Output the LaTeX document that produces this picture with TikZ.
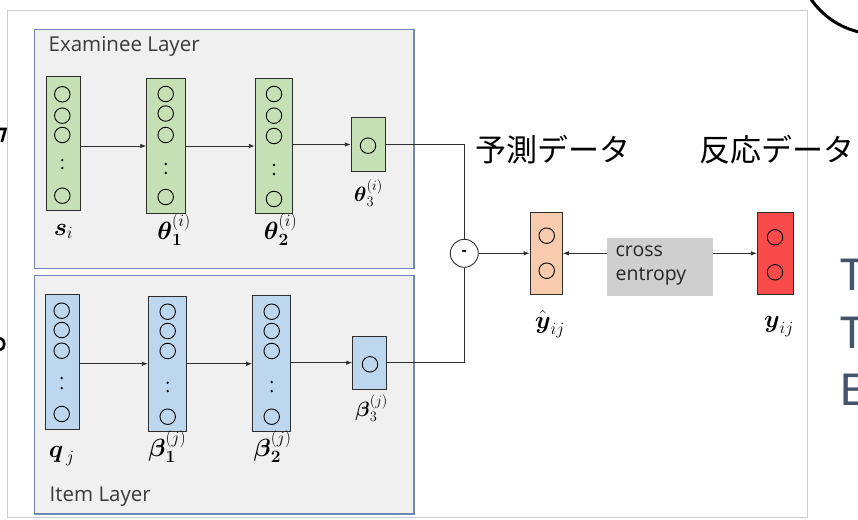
\documentclass[tikz,border=0pt]{standalone}
\usepackage{amsmath}
\usepackage{fontspec}
\newfontfamily\lblfont{Open Sans}
\newfontfamily\jpfont{Noto Sans CJK JP}
\newfontfamily\calfont{Carlito}
\usetikzlibrary{arrows.meta,calc}
\definecolor{framegray}{HTML}{CCCCCC}
\definecolor{layerfill}{HTML}{F0F0F0}
\definecolor{layerborder}{HTML}{6D86B4}
\definecolor{greenfill}{HTML}{C5E0B4}
\definecolor{bluefill}{HTML}{BDD7EE}
\definecolor{peachfill}{HTML}{F8CBAD}
\definecolor{redfill}{HTML}{F94B4B}
\definecolor{cefill}{HTML}{D0CFD0}
\definecolor{linecol}{HTML}{2E2E2E}
\definecolor{slatetext}{HTML}{44546A}
\definecolor{labeltext}{HTML}{3A3A3A}
\begin{document}
\begin{tikzpicture}[x=1pt,y=-1pt,
  frame/.style={draw=framegray, line width=1pt, fill=white, inner sep=0},
  layerbox/.style={draw=layerborder, line width=1.1pt, fill=layerfill, inner sep=0},
  col/.style={draw=linecol, line width=0.9pt, inner sep=0},
  neuron/.style={circle, draw=black, line width=0.9pt, minimum size=15.5pt, inner sep=0},
  dot/.style={circle, fill=black, minimum size=2.6pt, inner sep=0},
  arr/.style={draw=linecol, line width=0.8pt, -{Latex[length=6pt,width=4.5pt]}},
  conn/.style={draw=linecol, line width=0.8pt},
  mlabel/.style={anchor=base, inner sep=0, font=\fontsize{24}{26}\selectfont},
  smlabel/.style={anchor=base, inner sep=0, font=\fontsize{21}{23}\selectfont},
  layerlabel/.style={anchor=base west, inner sep=0, text=labeltext, font=\lblfont\fontsize{20.5}{23}\selectfont}
]
\useasboundingbox (0,0) rectangle (858,519);
\clip (0,0) rectangle (858,519);
\fill[white] (0,0) rectangle (858,519);

% outer frame
\node[frame, minimum width=800pt, minimum height=506pt] (frame) at (407,264) {};

% layer boxes
\node[layerbox, minimum width=379.3pt, minimum height=239pt] (exam) at (224.35,148.8) {};
\node[layerbox, minimum width=379.3pt, minimum height=238.3pt] (item) at (224.35,394.85) {};
\node[layerlabel] (examlbl) at (48.5,52) {Examinee Layer};
\node[layerlabel] (itemlbl) at (49.5,501.7) {Item Layer};

% tall columns
\node[col, fill=greenfill, minimum width=33.6pt, minimum height=134.7pt] (si)  at (63.5,143.3) {};
\node[col, fill=greenfill, minimum width=38.6pt, minimum height=134.6pt] (th1) at (166,146) {};
\node[col, fill=greenfill, minimum width=37pt,   minimum height=134.6pt] (th2) at (273.8,146) {};
\node[col, fill=greenfill, minimum width=34pt,   minimum height=54.4pt]  (th3) at (368.3,144.5) {};
\node[col, fill=bluefill,  minimum width=33.6pt, minimum height=135pt]   (qj)  at (62.5,361.5) {};
\node[col, fill=bluefill,  minimum width=38pt,   minimum height=134.3pt] (b1)  at (167.3,363.8) {};
\node[col, fill=bluefill,  minimum width=37.3pt, minimum height=136pt]   (b2)  at (271.3,363) {};
\node[col, fill=bluefill,  minimum width=34pt,   minimum height=53.3pt]  (b3)  at (369.7,362.7) {};

% neurons in tall columns
\foreach \n/\x/\a/\b/\c/\d/\e/\f in {
  si/62.3/94.3/115.7/135/195.7/160/168,
  th1/165.7/94/113.5/135/197/164/173,
  th2/274/94/115.7/136/199/165/174,
  qj/61.7/310.7/330/350.7/414/378/388,
  b1/167.7/311.7/331/351/416.7/382.7/391,
  b2/271.7/311.7/331/351/416.7/382/391} {
  \node[neuron] (\n-n1) at (\x,\a) {};
  \node[neuron] (\n-n2) at (\x,\b) {};
  \node[neuron] (\n-n3) at (\x,\c) {};
  \node[neuron] (\n-n4) at (\x,\d) {};
  \node[dot] (\n-d1) at (\x,\e) {};
  \node[dot] (\n-d2) at (\x,\f) {};
}
\node[neuron] (th3-n1) at (368,145.7) {};
\node[neuron] (b3-n1) at (370,364.3) {};

% output columns
\node[col, fill=peachfill, minimum width=32.3pt, minimum height=81.3pt] (yhat) at (546.2,253.3) {};
\node[col, fill=redfill,   minimum width=36pt,   minimum height=81.3pt] (yobs) at (775.3,253.3) {};
\node[neuron] (yhat-n1) at (546.7,235.7) {};
\node[neuron] (yhat-n2) at (546.7,270.7) {};
\node[neuron] (yobs-n1) at (775,237.3) {};
\node[neuron] (yobs-n2) at (775,272.3) {};

% cross entropy box
\node[fill=cefill, minimum width=106pt, minimum height=58.3pt, inner sep=0] (ce) at (659.7,266.8) {};
\node[anchor=west, align=left, inner sep=0, text=black!85, font=\lblfont\fontsize{19.5}{24}\selectfont] (cetext) at (615.5,265.5) {cross\\entropy};

% minus node
\node[circle, draw=linecol, fill=white, line width=0.9pt, minimum size=28pt, inner sep=0] (minus) at (464.3,253.3) {\lblfont\bfseries\fontsize{15}{15}\selectfont -};

% connectors examinee
\draw[arr] (si.east |- th1.west) -- (th1.west);
\draw[arr] (th1.east) -- (th2.west);
\draw[arr] (th2.east |- th3.west) -- (th3.west);
\draw[conn] (th3.east) -- (minus.north |- th3.east) -- (minus.north);
% connectors item
\draw[arr] (qj.east |- b1.west) -- (b1.west);
\draw[arr] (b1.east) -- (b1.east -| b2.west);
\draw[arr] (b2.east |- b3.west) -- (b3.west);
\draw[conn] (b3.east) -- (minus.south |- b3.east) -- (minus.south);
% output connectors
\draw[arr] (minus.east) -- (yhat.west);
\draw[arr] (ce.west |- yhat.east) -- (yhat.east);
\draw[arr] (ce.east |- yobs.west) -- (yobs.west);

% math labels
\node[mlabel] (lsi)  at (63.5,235)  {$\boldsymbol{s}_{i}$};
\node[mlabel] (lth1) at (174,239)   {$\boldsymbol{\theta}_{\boldsymbol{1}}^{(i)}$};
\node[mlabel] (lth2) at (280.5,239) {$\boldsymbol{\theta}_{\boldsymbol{2}}^{(i)}$};
\node[smlabel] (lth3) at (368.5,201) {$\boldsymbol{\theta}_{3}^{(i)}$};
\node[mlabel] (lqj)  at (61.7,457)  {$\boldsymbol{q}_{\,j}$};
\node[mlabel] (lb1)  at (167.3,456) {$\boldsymbol{\beta}_{\boldsymbol{1}}^{(j)}$};
\node[mlabel] (lb2)  at (272.5,456) {$\boldsymbol{\beta}_{\boldsymbol{2}}^{(j)}$};
\node[smlabel] (lb3) at (371.7,416) {$\boldsymbol{\beta}_{3}^{(j)}$};
\node[mlabel] (lyhat) at (550,328.3) {$\hat{\boldsymbol{y}}_{ij}$};
\node[mlabel] (lyobs) at (779,327.3) {$\boldsymbol{y}_{ij}$};

% Japanese headings
\node[anchor=west, inner sep=0, font=\jpfont\fontsize{31}{34}\selectfont] (pred) at (475,150) {予測データ};
\node[anchor=west, inner sep=0, font=\jpfont\fontsize{31}{34}\selectfont] (resp) at (699,150) {反応データ};

% cut-off elements at the edges
\node[anchor=base west, inner sep=0, text=slatetext, font=\calfont\fontsize{49}{50}\selectfont] (t1) at (840.5,290) {T};
\node[anchor=base west, inner sep=0, text=slatetext, font=\calfont\fontsize{49}{50}\selectfont] (t2) at (840.5,348.3) {T};
\node[anchor=base west, inner sep=0, text=slatetext, font=\calfont\fontsize{49}{50}\selectfont] (t3) at (840.5,405) {E};
\draw[line width=3pt] (877,-46) circle[radius=80pt];
\draw[line width=2.6pt] (0,129) -- (5.5,129) -- (1.8,142);
\draw[line width=2.6pt] (0,338) .. controls (5.8,339) and (5.8,349) .. (0,350);
\end{tikzpicture}
\end{document}
